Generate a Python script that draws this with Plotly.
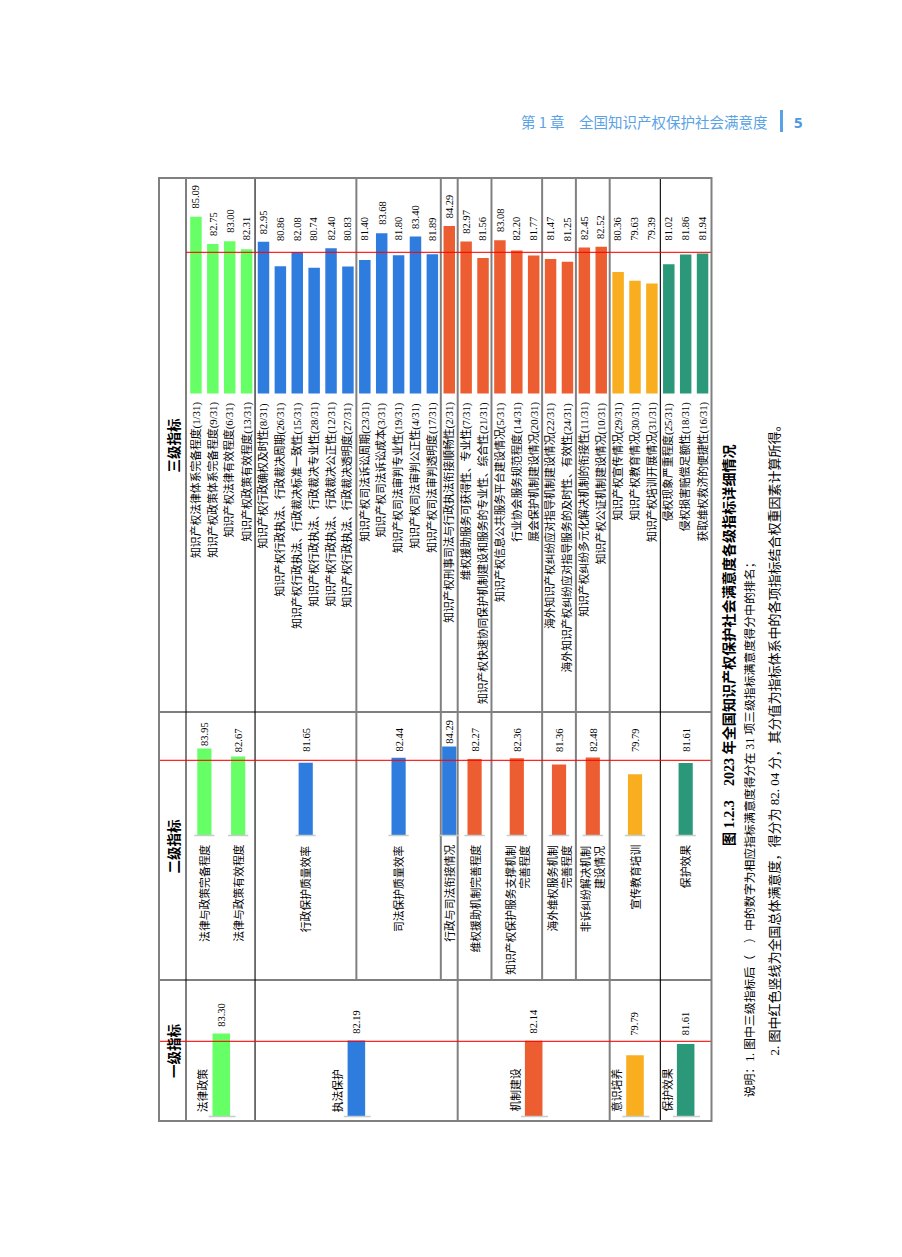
import plotly.graph_objects as go

# the page body adds an 8 px margin around the figure
OFF = 8
PAGE_W, PAGE_H = 902, 1257
W, H = PAGE_W - OFF, PAGE_H - OFF

# ---------------- data ----------------
OVERALL = 82.04

level3_labels = [
    "知识产权法律体系完备程度(1/31)",
    "知识产权政策体系完备程度(9/31)",
    "知识产权法律有效程度(6/31)",
    "知识产权政策有效程度(13/31)",
    "知识产权行政确权及时性(8/31)",
    "知识产权行政执法、行政裁决周期(26/31)",
    "知识产权行政执法、行政裁决标准一致性(15/31)",
    "知识产权行政执法、行政裁决专业性(28/31)",
    "知识产权行政执法、行政裁决公正性(12/31)",
    "知识产权行政执法、行政裁决透明度(27/31)",
    "知识产权司法诉讼周期(23/31)",
    "知识产权司法诉讼成本(3/31)",
    "知识产权司法审判专业性(19/31)",
    "知识产权司法审判公正性(4/31)",
    "知识产权司法审判透明度(17/31)",
    "知识产权刑事司法与行政执法衔接顺畅性(2/31)",
    "维权援助服务可获得性、专业性(7/31)",
    "知识产权快速协同保护机制建设和服务的专业性、综合性(21/31)",
    "知识产权信息公共服务平台建设情况(5/31)",
    "行业协会服务规范程度(14/31)",
    "展会保护机制建设情况(20/31)",
    "海外知识产权纠纷应对指导机制建设情况(22/31)",
    "海外知识产权纠纷应对指导服务的及时性、有效性(24/31)",
    "知识产权纠纷多元化解决机制的衔接性(11/31)",
    "知识产权公证机制建设情况(10/31)",
    "知识产权宣传情况(29/31)",
    "知识产权教育情况(30/31)",
    "知识产权培训开展情况(31/31)",
    "侵权现象严重程度(25/31)",
    "侵权损害赔偿足额性(18/31)",
    "获取维权救济的便捷性(16/31)",
]
level3_values = [85.09, 82.75, 83.00, 82.31,
                 82.95, 80.86, 82.08, 80.74, 82.40, 80.83,
                 81.40, 83.68, 81.80, 83.40, 81.89,
                 84.29,
                 82.97, 81.56, 83.08, 82.20, 81.77, 81.47, 81.25, 82.45, 82.52,
                 80.36, 79.63, 79.39,
                 81.02, 81.86, 81.94]

level2_labels = ["法律与政策完备程度", "法律与政策有效程度", "行政保护质量效率",
                 "司法保护质量效率", "行政与司法衔接情况", "维权援助机制完善程度",
                 "知识产权保护服务支撑机制<br>完善程度", "海外维权服务机制<br>完善程度",
                 "非诉纠纷解决机制<br>建设情况", "宣传教育培训", "保护效果"]
level2_values = [83.95, 82.67, 81.65, 82.44, 84.29, 82.27, 82.36, 81.36, 82.48, 79.79, 81.61]
level2_sizes = [2, 2, 6, 5, 1, 2, 3, 2, 2, 3, 3]

level1_labels = ["法律政策", "执法保护", "机制建设", "意识培养", "保护效果"]
level1_values = [83.30, 82.19, 82.14, 79.79, 81.61]
level1_sizes = [4, 12, 9, 3, 3]

header_labels = ["三级指标", "二级指标", "一级指标"]
title_text = "图 1.2.3　2023 年全国知识产权保护社会满意度各级指标详细情况"
note1 = "说明：1. 图中三级指标后（　）中的数字为相应指标满意度得分在 31 项三级指标满意度得分中的排名；"
note2 = ("2. 图中红色竖线为全国总体满意度，得分为 " + f"{OVERALL:.2f}".replace(".", ". ")
         + " 分，其分值为指标体系中的各项指标结合权重因素计算所得。")
page_header = "第 1 章　全国知识产权保护社会满意度"
page_number = "5"

# ---------------- styles ----------------
GREEN, BLUE, ORANGE, YELLOW, TEAL = "#66FF66", "#2F7CDF", "#EC5E31", "#F8AE1F", "#2A9879"
color3 = [GREEN] * 4 + [BLUE] * 11 + [ORANGE] * 10 + [YELLOW] * 3 + [TEAL] * 3
color2 = [GREEN, GREEN, BLUE, BLUE, BLUE, ORANGE, ORANGE, ORANGE, ORANGE, YELLOW, TEAL]
color1 = [GREEN, BLUE, ORANGE, YELLOW, TEAL]

CJK = "Liberation Serif, Noto Sans CJK SC"
NUM = "Liberation Serif"
GRAY = "#808080"


def fx(x):
    return (x - OFF) / W


def fy(y):
    return 1 - (y - OFF) / H


N = len(level3_values)
X0, X1 = 187.5, 711.0
BASE_VAL = 70
# section geometry in page pixels: base y, top y, px per unit,
# value-label lowest position (px) and gap above a bar (px)
SEC3 = dict(base=393.5, top=178.0, scale=11.72, lab_floor=241.7, gap=7)
SEC2 = dict(base=835.0, top=712.0, scale=6.2, lab_floor=753.0, gap=2)
SEC1 = dict(base=1116.0, top=980.0, scale=6.2, lab_floor=1036.7, gap=6)


def group_centers(sizes):
    out, start = [], 0
    for s in sizes:
        out.append(start + (s - 1) / 2)
        start += s
    return out


def boundaries(sizes):
    out, acc = [], 0
    for s in sizes[:-1]:
        acc += s
        out.append(acc - 0.5)
    return out


x3 = list(range(N))
x2 = group_centers(level2_sizes)
x1 = group_centers(level1_sizes)

fig = go.Figure()
ann = []


def add_bars(xs, vals, colors, width, xa, ya, sec):
    fig.add_trace(go.Bar(
        x=xs, y=vals, width=width, xaxis=xa, yaxis=ya,
        marker=dict(color=colors, line=dict(width=0)),
        hoverinfo="skip", showlegend=False))
    floor_val = BASE_VAL + (sec["base"] - sec["lab_floor"]) / sec["scale"]
    gap_val = sec["gap"] / sec["scale"]
    for xv, v in zip(xs, vals):
        ann.append(dict(x=xv, y=max(v + gap_val, floor_val), xref=xa, yref=ya,
                        text=f"{v:.2f}", textangle=-90,
                        xanchor="center", yanchor="bottom", showarrow=False, borderpad=0,
                        font=dict(family=NUM, size=10.5, color="black")))


add_bars(x3, level3_values, color3, 0.68, "x", "y", SEC3)
add_bars(x2, level2_values, color2, 0.84, "x2", "y2", SEC2)
add_bars(x1, level1_values, color1, 1.04, "x3", "y3", SEC1)

shapes = []


def seg(x0, y0, x1_, y1, color, width, xref="paper", yref="paper"):
    shapes.append(dict(type="line", x0=x0, y0=y0, x1=x1_, y1=y1, xref=xref, yref=yref,
                       line=dict(color=color, width=width), layer="above"))


L, R, T, B = 159.0, 711.5, 178.0, 1121.0
# header column divider and section dividers
seg(fx(186), fy(T), fx(186), fy(B), "#555555", 1.5)
seg(fx(L), fy(712), fx(R), fy(712), "black", 1.2)
seg(fx(L), fy(980), fx(R), fy(980), "black", 1.2)

# group separators in 三级 and 二级 sections (second-level groups)
b2 = boundaries(level2_sizes)[1:]
b1 = boundaries(level1_sizes)
for b in b2:
    thin = b in (b1[0], b1[-1])
    seg(b, fy(T), b, fy(980), "black" if thin else GRAY, 1.1 if thin else 2, xref="x")
# first-level separators in 一级 section
for b in b1:
    thin = b in (b1[0], b1[-1])
    seg(b, fy(980), b, fy(B), "black" if thin else GRAY, 1.1 if thin else 2, xref="x")

# light baselines under the level-2 and level-1 bars
for xc in x2:
    seg(xc - 0.6, fy(SEC2["base"] + 0.5), xc + 0.6, fy(SEC2["base"] + 0.5), "#C4CCCC", 1.5, xref="x2")
for xc in x1:
    seg(xc - 0.75, fy(SEC1["base"] + 0.5), xc + 0.85, fy(SEC1["base"] + 0.5), "#C4CCCC", 1.5, xref="x3")

# overall score reference lines
shapes.append(dict(type="line", xref="paper", yref="y", x0=fx(186), x1=fx(R), y0=OVERALL, y1=OVERALL,
                   line=dict(color="rgba(255,0,0,0.85)", width=1.4), layer="above"))
for ya in ("y2", "y3"):
    shapes.append(dict(type="line", xref="paper", yref=ya, x0=fx(L), x1=fx(R), y0=OVERALL, y1=OVERALL,
                       line=dict(color="rgba(255,0,0,0.85)", width=1.4), layer="above"))

# outer border
shapes.append(dict(type="rect", xref="paper", yref="paper", x0=fx(L), x1=fx(R), y0=fy(B), y1=fy(T),
                   line=dict(color=GRAY, width=2), layer="above"))

# page header bar
shapes.append(dict(type="line", xref="paper", yref="paper", x0=fx(781.5), x1=fx(781.5),
                   y0=fy(110), y1=fy(132), line=dict(color="#5AA2E6", width=3)))

for i, lab in enumerate(level3_labels):
    ann.append(dict(x=x3[i], y=fy(400), xref="x", yref="paper", text=lab, textangle=-90,
                    xanchor="center", yanchor="top", showarrow=False,
                    font=dict(family=CJK, size=10.8, color="black")))
for i, lab in enumerate(level2_labels):
    ann.append(dict(x=x2[i], y=fy(843), xref="x2", yref="paper", text=lab, textangle=-90,
                    xanchor="center", yanchor="top", align="right", showarrow=False,
                    font=dict(family=CJK, size=10.8, color="black")))
for i, lab in enumerate(level1_labels):
    ann.append(dict(x=x1[i] - 1.1, y=fy(1114), xref="x3", yref="paper", text=lab, textangle=-90,
                    xanchor="center", yanchor="bottom", showarrow=False,
                    font=dict(family=CJK, size=10.8, color="black")))
for lab, (yb, yt) in zip(header_labels, [(T, 712), (712, 980), (980, B)]):
    ann.append(dict(x=fx(172.5), y=fy((yb + yt) / 2), xref="paper", yref="paper",
                    text=f"<b>{lab}</b>", textangle=-90, xanchor="center", yanchor="middle",
                    showarrow=False, font=dict(family="Noto Sans CJK SC", size=13.5, color="black")))

ann.append(dict(x=fx(729), y=fy(645), xref="paper", yref="paper", text=f"<b>{title_text}</b>",
                textangle=-90, xanchor="center", yanchor="middle", showarrow=False,
                font=dict(family=CJK, size=14.1, color="black")))
ann.append(dict(x=fx(749), y=fy(1100), xref="paper", yref="paper", text=note1,
                textangle=-90, xanchor="center", yanchor="bottom", showarrow=False,
                font=dict(family=CJK, size=11.9, color="black")))
ann.append(dict(x=fx(774), y=fy(1058), xref="paper", yref="paper", text=note2,
                textangle=-90, xanchor="center", yanchor="bottom", showarrow=False,
                font=dict(family=CJK, size=13.0, color="black")))
ann.append(dict(x=fx(770), y=fy(121.5), xref="paper", yref="paper", text=page_header,
                xanchor="right", yanchor="middle", showarrow=False,
                font=dict(family="Noto Sans CJK SC", size=14.5, color="#5AA2E6")))
ann.append(dict(x=fx(798.5), y=fy(121.5), xref="paper", yref="paper", text=f"<b>{page_number}</b>",
                xanchor="center", yanchor="middle", showarrow=False,
                font=dict(family="Noto Sans", size=15, color="#4A97E3")))

xdom = [fx(X0), fx(X1)]
xr = [-0.5, N - 0.5]


def yax(sec, anchor):
    base, top, sc = sec["base"], sec["top"], sec["scale"]
    return dict(domain=[fy(base), fy(top)], range=[BASE_VAL, BASE_VAL + (base - top) / sc],
                visible=False, anchor=anchor, fixedrange=True)


fig.update_layout(
    width=W, height=H, autosize=False,
    margin=dict(l=0, r=0, t=0, b=0, pad=0),
    paper_bgcolor="white", plot_bgcolor="rgba(0,0,0,0)",
    showlegend=False,
    xaxis=dict(domain=xdom, range=xr, visible=False, anchor="y", fixedrange=True),
    xaxis2=dict(domain=xdom, range=xr, visible=False, anchor="y2", fixedrange=True),
    xaxis3=dict(domain=xdom, range=xr, visible=False, anchor="y3", fixedrange=True),
    yaxis=yax(SEC3, "x"),
    yaxis2=yax(SEC2, "x2"),
    yaxis3=yax(SEC1, "x3"),
    shapes=shapes,
    annotations=ann,
)

fig.write_html("out.html", config={"displayModeBar": False})
